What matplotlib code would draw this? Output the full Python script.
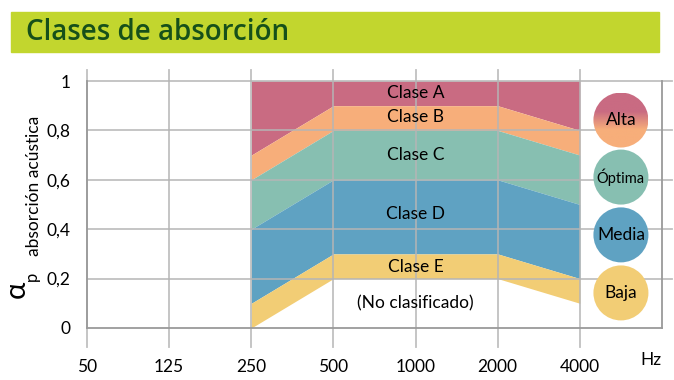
import numpy as np
import matplotlib.pyplot as plt
from matplotlib.patches import Ellipse, Rectangle
from matplotlib.colors import LinearSegmentedColormap

# datos
frecuencias = ['50', '125', '250', '500', '1000', '2000', '4000']
x_banda = [2, 3, 4, 5, 6]   # 250 .. 4000 Hz
limite_sup = [1.0, 1.0, 1.0, 1.0, 1.0]
clase_a = [0.7, 0.9, 0.9, 0.9, 0.8]
clase_b = [0.6, 0.8, 0.8, 0.8, 0.7]
clase_c = [0.4, 0.6, 0.6, 0.6, 0.5]
clase_d = [0.1, 0.3, 0.3, 0.3, 0.2]
clase_e = [0.0, 0.2, 0.2, 0.2, 0.1]
yticks = [0, 0.2, 0.4, 0.6, 0.8, 1]
ytick_labels = ['0', '0,2', '0,4', '0,6', '0,8', '1']
etiquetas = ['Clase A', 'Clase B', 'Clase C', 'Clase D', 'Clase E', '(No clasificado)']
etiquetas_y = [0.95, 0.855, 0.70, 0.46, 0.245, 0.10]
niveles = ['Alta', 'Óptima', 'Media', 'Baja']
niveles_y = [0.842, 0.611, 0.377, 0.142]

c_a = '#C96B82'
c_b = '#F7AE7A'
c_c = '#87BFB1'
c_d = '#5FA2C2'
c_e = '#F2CD75'
gris = '#B5B5B5'

plt.rcParams['font.family'] = ['Lato', 'DejaVu Sans']

fig = plt.figure(figsize=(6.74, 3.8), dpi=100)

# barra de titulo
fig.patches.append(Rectangle((11/674, 1-52/380), 648/674, 40/380,
                             transform=fig.transFigure, color='#C2D62E', zorder=0))
fig.text(26/674, 1-33/380, 'Clases de absorción', fontsize=20, color='#16501A',
         family='Open Sans', weight='semibold', va='center', ha='left')

ax = fig.add_axes([87/674, 52/380, 575/674, 247/380])
ax.set_xlim(0, 7)
ax.set_ylim(0, 1)

ax.fill_between(x_banda, clase_a, limite_sup, color=c_a, lw=0, zorder=1)
ax.fill_between(x_banda, clase_b, clase_a, color=c_b, lw=0, zorder=1)
ax.fill_between(x_banda, clase_c, clase_b, color=c_c, lw=0, zorder=1)
ax.fill_between(x_banda, clase_d, clase_c, color=c_d, lw=0, zorder=1)
ax.fill_between(x_banda, clase_e, clase_d, color=c_e, lw=0, zorder=1)

# rejilla
for i in range(len(frecuencias)):
    ax.plot([i, i], [-0.078, 1.045], color=gris, lw=1.3, alpha=0.85, clip_on=False, zorder=2)
for v in yticks[1:]:
    ax.plot([0, 7.12], [v, v], color=gris, lw=1.3, alpha=0.85, clip_on=False, zorder=2)

for s in ['left', 'bottom', 'right']:
    ax.spines[s].set_color('#9A9A9A')
    ax.spines[s].set_linewidth(1.3)
ax.spines['top'].set_visible(False)

ax.set_xticks(range(len(frecuencias)))
ax.set_xticklabels(frecuencias, fontsize=12.5)
ax.set_yticks(yticks)
ax.set_yticklabels(ytick_labels, fontsize=12.5)
ax.tick_params(axis='both', length=0)
ax.tick_params(axis='x', pad=22)
ax.tick_params(axis='y', pad=12)
ax.text(6.87, -0.13, 'Hz', fontsize=12.5, ha='center', va='center')

# etiqueta del eje y
fig.text(17/674, 1-289/380, 'α', fontsize=21, rotation=90, ha='center', va='center')
fig.text(32/674, 1-276/380, 'p', fontsize=12, rotation=90, ha='center', va='center')
fig.text(34/674, 1-186/380, 'absorción acústica', fontsize=12.5, rotation=90,
         ha='center', va='center')

for txt, yy in zip(etiquetas, etiquetas_y):
    ax.text(4, yy, txt, fontsize=12.5, ha='center', va='center', zorder=3)

# circulos
w = 55 / (575 / 7)
h = 55 / 247
col_niveles = [None, c_c, c_d, c_e]
for nom, yy, cc in zip(niveles, niveles_y, col_niveles):
    e = Ellipse((6.5, yy), w, h, lw=0, zorder=3, clip_on=False,
                facecolor=cc if cc else 'none')
    ax.add_patch(e)
    if cc is None:
        cmap = LinearSegmentedColormap.from_list('alta', [c_a, c_a, c_b, c_b])
        grad = np.linspace(0, 1, 100).reshape(-1, 1)
        im = ax.imshow(grad, cmap=cmap, aspect='auto', zorder=3,
                       extent=[6.5 - w/2, 6.5 + w/2, yy - h/2, yy + h/2], origin='upper')
        im.set_clip_path(e)
    fs = 10.5 if nom == 'Óptima' else 12.5
    ax.text(6.5, yy, nom, fontsize=fs, ha='center', va='center', zorder=4)

ax.set_xlim(0, 7)
ax.set_ylim(0, 1)

fig.savefig('out.png', dpi=100)
